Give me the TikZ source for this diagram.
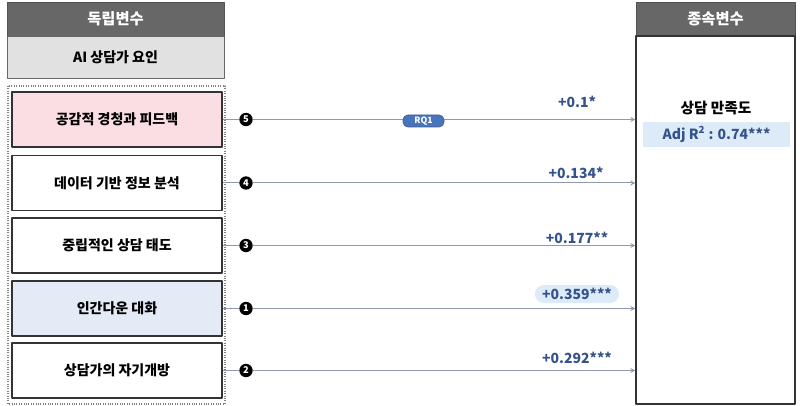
\documentclass[tikz,border=0pt]{standalone}
\usepackage{fontspec}
\newfontfamily\krfont{Noto Sans CJK KR}
\definecolor{headgray}{HTML}{676767}
\definecolor{subgray}{HTML}{E1E1E1}
\definecolor{pinkfill}{HTML}{FBDDE4}
\definecolor{bluefill}{HTML}{E4EBF6}
\definecolor{valblue}{HTML}{34528C}
\definecolor{pillblue}{HTML}{DDEBF8}
\definecolor{rqblue}{HTML}{4A74BA}
\definecolor{linkgray}{HTML}{8D9AAE}
\begin{document}
\begin{tikzpicture}[x=0.75pt,y=-0.75pt,>=stealth,font=\krfont\bfseries,line join=round]
	\tikzset{every node/.style={inner sep=0pt},
		header/.style={draw=headgray!80!black,fill=headgray,text=white,font=\krfont\bfseries\fontsize{11.5}{13}\selectfont},
		factor/.style={draw=black!80,line width=0.8pt,minimum width=157.5pt,minimum height=41.25pt,font=\krfont\bfseries\fontsize{10.5}{12}\selectfont},
		num/.style={circle,fill=black,text=white,minimum size=10pt,font=\krfont\bfseries\fontsize{7}{8}\selectfont},
		value/.style={text=valblue,font=\krfont\bfseries\fontsize{10.5}{12}\selectfont},
		link/.style={draw=linkgray,line width=0.75pt}}
	\useasboundingbox (0,0) rectangle (800,406);
	% independent side
	\node[header,minimum width=162.75pt,minimum height=25.5pt] (lhead) at (115.5,19) {독립변수};
	\node[draw=headgray,fill=subgray,minimum width=162.75pt,minimum height=31.5pt,font=\krfont\bfseries\fontsize{10.5}{12}\selectfont] (lsub) at (115.5,57) {AI 상담가 요인};
	\draw[densely dotted,gray,line width=0.8pt] (8,86) rectangle (225,404);
	\node[factor,fill=pinkfill] (f5) at (117,119.5) {공감적 경청과 피드백};
	\node[factor] (f4) at (117,183) {데이터 기반 정보 분석};
	\node[factor] (f3) at (117,245.5) {중립적인 상담 태도};
	\node[factor,fill=bluefill] (f1) at (117,308.5) {인간다운 대화};
	\node[factor] (f2) at (117,370.5) {상담가의 자기개방};
	% dependent side
	\node[header,minimum width=119.25pt,minimum height=25.5pt] (rhead) at (715.5,19) {종속변수};
	\node[draw=black!80,line width=0.8pt,minimum width=119.25pt,minimum height=276pt] (rbody) at (715.5,220) {};
	\node[font=\krfont\bfseries\fontsize{11}{13}\selectfont] (dv) at (716,108) {상담 만족도};
	\node[fill=pillblue,minimum width=110.25pt,minimum height=18.75pt,value] (adj) at (716.5,134.5) {Adj R\textsuperscript{2} : 0.74***};
	% paths
	\foreach \f/\k in {f5/5,f4/4,f3/3,f1/1,f2/2}{
		\node[num] (c\k) at (246,0 |- \f.east) {\k};
		\draw[link] (\f.east) -- (c\k);
		\draw[link,->] (c\k) -- (c\k -| rbody.west);
	}
	\node[fill=rqblue,draw=rqblue!80!black,rounded corners=3.5pt,minimum width=30.75pt,minimum height=9pt,text=white,font=\krfont\bfseries\fontsize{6.5}{7}\selectfont] (rq) at (423.5,121) {RQ1};
	\node[value] (v5) at (577,102) {+0.1*};
	\node[value] (v4) at (576,173) {+0.134*};
	\node[value] (v3) at (577,238) {+0.177**};
	\node[value,fill=pillblue,rounded corners=6.5pt,minimum width=63pt,minimum height=13.5pt] (v1) at (577,294) {+0.359***};
	\node[value] (v2) at (577,358) {+0.292***};
\end{tikzpicture}
\end{document}
